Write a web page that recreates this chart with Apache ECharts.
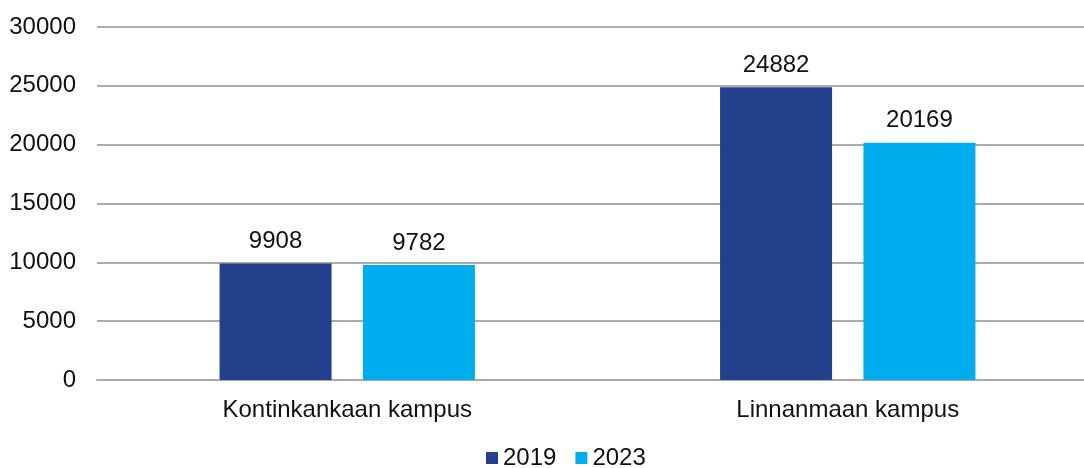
<!DOCTYPE html>
<html>
<head>
<meta charset="utf-8">
<script src="https://cdn.jsdelivr.net/npm/echarts@6/dist/echarts.min.js"></script>
<style>
  html, body { margin: 0; padding: 0; background: #fff; overflow: hidden; }
  #wrap { width: 1084px; height: 468px; overflow: hidden; }
  #chart { width: 1098px; height: 468px; }
</style>
</head>
<body>
<div id="wrap"><div id="chart"></div></div>
<script>
const categories = ['Kontinkankaan kampus', 'Linnanmaan kampus']
const years = ['2019', '2023']
const values2019 = [9908, 24882]
const values2023 = [9782, 20169]
const yTicks = [0, 5000, 10000, 15000, 20000, 25000, 30000]

const colors = ['#22408B', '#00AEEF']
const font = 'Liberation Sans, Arial, sans-serif'

let chart = echarts.init(document.getElementById('chart'))

const labelStyle = {
  show: true,
  position: 'top',
  distance: 10,
  color: '#111',
  fontSize: 24,
  fontFamily: font
}

chart.setOption({
  animation: false,
  textStyle: { fontFamily: font },
  grid: { left: 97, right: 0, top: 27, bottom: 88, containLabel: false },
  legend: {
    top: 446,
    left: 486,
    padding: 0,
    itemWidth: 12,
    itemHeight: 12,
    itemGap: 19,
    icon: 'rect',
    textStyle: { fontSize: 24, color: '#111', fontFamily: font },
    data: years
  },
  xAxis: {
    type: 'category',
    data: categories,
    axisLine: { lineStyle: { color: '#ababab', width: 2 } },
    axisTick: { show: false },
    axisLabel: { fontSize: 24, color: '#111', margin: 18, fontFamily: font }
  },
  yAxis: {
    type: 'value',
    min: yTicks[0],
    max: yTicks[yTicks.length - 1],
    interval: yTicks[1] - yTicks[0],
    axisLine: { show: false },
    axisTick: { show: false },
    splitLine: { lineStyle: { color: '#ababab', width: 2 } },
    axisLabel: {
      fontSize: 24,
      color: '#111',
      margin: 21,
      fontFamily: font,
      formatter: v => String(v)
    }
  },
  series: [
    {
      name: years[0],
      type: 'bar',
      data: values2019,
      barWidth: 112,
      barGap: '28%',
      itemStyle: { color: colors[0] },
      label: labelStyle
    },
    {
      name: years[1],
      type: 'bar',
      data: values2023,
      barWidth: 112,
      barGap: '28%',
      itemStyle: { color: colors[1] },
      label: labelStyle
    }
  ]
})
</script>
</body>
</html>
